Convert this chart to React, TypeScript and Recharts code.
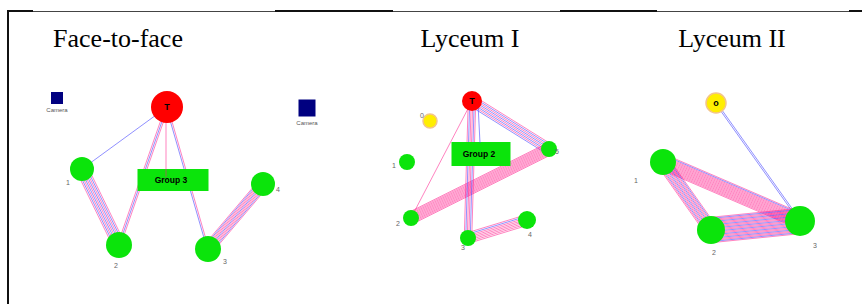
import React from "react";
import { ScatterChart, Scatter, XAxis, YAxis } from "recharts";

type Node = { id: string; x: number; y: number; size: number; kind: string };
type Edge = { from: string; to: string; pink: number; blue: number };

// panel titles
const titles = ["Face-to-face", "Lyceum I", "Lyceum II"];
const titleX = [118, 470, 732];

// node positions (pixel-like units, y downwards)
const faceNodes: Node[] = [
  { id: "T", x: 167, y: 107, size: 16, kind: "teacher" },
  { id: "1", x: 82, y: 169, size: 12, kind: "student" },
  { id: "2", x: 119, y: 245, size: 13, kind: "student" },
  { id: "3", x: 208, y: 249, size: 13, kind: "student" },
  { id: "4", x: 263, y: 184, size: 12, kind: "student" },
];
const lyceum1Nodes: Node[] = [
  { id: "T", x: 472, y: 101, size: 10, kind: "teacher" },
  { id: "0", x: 430, y: 121, size: 7, kind: "observer" },
  { id: "1", x: 407, y: 162, size: 8, kind: "student" },
  { id: "2", x: 411, y: 218, size: 8, kind: "student" },
  { id: "3", x: 468, y: 238, size: 8, kind: "student" },
  { id: "4", x: 527, y: 220, size: 9, kind: "student" },
  { id: "5", x: 549, y: 149, size: 8, kind: "student" },
];
const lyceum2Nodes: Node[] = [
  { id: "o", x: 716, y: 103, size: 10, kind: "observer" },
  { id: "1", x: 663, y: 162, size: 13, kind: "student" },
  { id: "2", x: 711, y: 230, size: 14, kind: "student" },
  { id: "3", x: 800, y: 221, size: 15, kind: "student" },
];

// interaction bundles: number of pink / blue links between two nodes
const faceEdges: Edge[] = [
  { from: "T", to: "1", pink: 0, blue: 1 },
  { from: "T", to: "2", pink: 2, blue: 1 },
  { from: "T", to: "3", pink: 1, blue: 1 },
  { from: "1", to: "2", pink: 5, blue: 4 },
  { from: "3", to: "4", pink: 8, blue: 3 },
];
const lyceum1Edges: Edge[] = [
  { from: "T", to: "5", pink: 4, blue: 4 },
  { from: "5", to: "2", pink: 12, blue: 0 },
  { from: "T", to: "2", pink: 1, blue: 0 },
  { from: "T", to: "3", pink: 4, blue: 2 },
  { from: "3", to: "4", pink: 7, blue: 1 },
];
const lyceum2Edges: Edge[] = [
  { from: "o", to: "3", pink: 0, blue: 2 },
  { from: "1", to: "3", pink: 14, blue: 1 },
  { from: "1", to: "2", pink: 8, blue: 5 },
  { from: "2", to: "3", pink: 16, blue: 8 },
];

// group boxes and cameras (centre points)
const groups = [
  { x: 173, y: 180, label: "Group 3" },
  { x: 481, y: 154, label: "Group  2" },
];
const cameras = [
  { x: 57, y: 98 },
  { x: 307, y: 108 },
];
// lines from the teacher to the group box
const groupLinks = [
  { x1: 166, y1: 107, x2: 166, y2: 177, color: "pink" },
  { x1: 478, y1: 104, x2: 480, y2: 143, color: "blue" },
];

const PINK = "rgba(255,30,140,0.55)";
const BLUE = "rgba(70,70,255,0.6)";
const GREEN = "#0be40b";

const labelOffset: Record<string, [number, number]> = {
  "f-1": [-14, 16], "f-2": [-3, 23], "f-3": [17, 15], "f-4": [15, 8],
  "l1-0": [-8, -3], "l1-1": [-13, 6], "l1-2": [-13, 8], "l1-3": [-5, 12],
  "l1-4": [3, 17], "l1-5": [8, 5],
  "l2-1": [-27, 21], "l2-2": [3, 25], "l2-3": [15, 27],
};

function bundleLines(nodes: Node[], edges: Edge[]) {
  const out: { pts: { x: number; y: number }[]; color: string }[] = [];
  edges.forEach((e) => {
    const a = nodes.find((n) => n.id === e.from)!;
    const b = nodes.find((n) => n.id === e.to)!;
    const dx = b.x - a.x;
    const dy = b.y - a.y;
    const len = Math.hypot(dx, dy);
    const nx = -dy / len;
    const ny = dx / len;
    const total = e.pink + e.blue;
    const spacing = total > 10 ? 1.1 : 1.5;
    for (let i = 0; i < total; i++) {
      const isBlue = e.blue > 0 && i % Math.max(1, Math.round(total / e.blue)) === 1 % total;
      const off = (i - (total - 1) / 2) * spacing;
      out.push({
        pts: [
          { x: a.x + nx * off, y: a.y + ny * off },
          { x: b.x + nx * off, y: b.y + ny * off },
        ],
        color: isBlue || (e.pink === 0) ? BLUE : PINK,
      });
    }
  });
  return out;
}

const Empty = () => <g />;

function nodeShape(prefix: string) {
  return (props: any) => {
    const { cx, cy, payload } = props;
    const n = payload as Node;
    const fill = n.kind === "teacher" ? "#ff0000" : n.kind === "observer" ? "#ffee00" : GREEN;
    const off = labelOffset[`${prefix}-${n.id}`];
    return (
      <g>
        <circle
          cx={cx}
          cy={cy}
          r={n.size}
          fill={fill}
          stroke={n.kind === "observer" ? "#f3c58a" : "none"}
          strokeWidth={1.5}
        />
        {n.kind === "teacher" || (prefix === "l2" && n.id === "o") ? (
          <text x={cx} y={cy + 3} textAnchor="middle" fontSize={9} fontWeight="bold" fontFamily="Arial" fill="#000">
            {n.id}
          </text>
        ) : null}
        {off ? (
          <text x={cx + off[0]} y={cy + off[1]} textAnchor="middle" fontSize={7} fontFamily="Arial" fill="#666">
            {n.id}
          </text>
        ) : null}
      </g>
    );
  };
}

const groupShape = (props: any) => {
  const { cx, cy, payload } = props;
  const w = payload.label === "Group 3" ? 71 : 59;
  const h = payload.label === "Group 3" ? 22 : 24;
  return (
    <g>
      <rect x={cx - w / 2} y={cy - h / 2} width={w} height={h} fill={GREEN} />
      <text x={cx - 2} y={cy + 3} textAnchor="middle" fontSize={8.5} fontWeight="bold" fontFamily="Arial" fill="#000">
        {payload.label}
      </text>
    </g>
  );
};

const cameraShape = (props: any) => {
  const { cx, cy, payload } = props;
  const s = payload.x < 100 ? 12 : 17;
  return (
    <g>
      <rect x={cx - s / 2} y={cy - s / 2} width={s} height={s} fill="#000080" />
      <text x={cx} y={cy + s / 2 + 8} textAnchor="middle" fontSize={6} fontFamily="Arial" fill="#555">
        Camera
      </text>
    </g>
  );
};

export default function App() {
  const lines = [
    ...bundleLines(faceNodes, faceEdges),
    ...bundleLines(lyceum1Nodes, lyceum1Edges),
    ...bundleLines(lyceum2Nodes, lyceum2Edges),
  ];
  return (
    <div style={{ position: "absolute", left: 0, top: 0, width: 862, height: 304, background: "#fff" }}>
      <div style={{ position: "absolute", left: 8, top: 11, width: 854, height: 1, background: "#444" }} />
      {[[8, 33], [275, 393], [560, 657], [849, 862]].map(([a, b]) => (
        <div key={a} style={{ position: "absolute", left: a, top: 10, width: b - a, height: 2, background: "#111" }} />
      ))}
      <div style={{ position: "absolute", left: 7, top: 10, width: 2, height: 294, background: "#111" }} />
      {titles.map((t, i) => (
        <div
          key={t}
          style={{
            position: "absolute",
            left: titleX[i] - 90,
            width: 180,
            top: 24,
            lineHeight: "30px",
            textAlign: "center",
            fontFamily: "'Liberation Serif', serif",
            fontSize: 26,
            color: "#000",
          }}
        >
          {t}
        </div>
      ))}
      <div style={{ position: "absolute", left: 0, top: 0 }}>
        <ScatterChart width={862} height={304} margin={{ top: 0, right: 0, bottom: 0, left: 0 }}>
          <XAxis type="number" dataKey="x" domain={[0, 862]} hide />
          <YAxis type="number" dataKey="y" domain={[0, 304]} reversed hide />
          {lines.map((l, i) => (
            <Scatter
              key={`e${i}`}
              data={l.pts}
              line={{ stroke: l.color, strokeWidth: 1 }}
              shape={Empty}
              isAnimationActive={false}
            />
          ))}
          <Scatter data={groups} shape={groupShape} isAnimationActive={false} />
          {groupLinks.map((g, i) => (
            <Scatter
              key={`g${i}`}
              data={[{ x: g.x1, y: g.y1 }, { x: g.x2, y: g.y2 }]}
              line={{ stroke: g.color === "pink" ? PINK : BLUE, strokeWidth: 1 }}
              shape={Empty}
              isAnimationActive={false}
            />
          ))}
          <Scatter data={cameras} shape={cameraShape} isAnimationActive={false} />
          <Scatter data={faceNodes} shape={nodeShape("f")} isAnimationActive={false} />
          <Scatter data={lyceum1Nodes} shape={nodeShape("l1")} isAnimationActive={false} />
          <Scatter data={lyceum2Nodes} shape={nodeShape("l2")} isAnimationActive={false} />
        </ScatterChart>
      </div>
    </div>
  );
}
